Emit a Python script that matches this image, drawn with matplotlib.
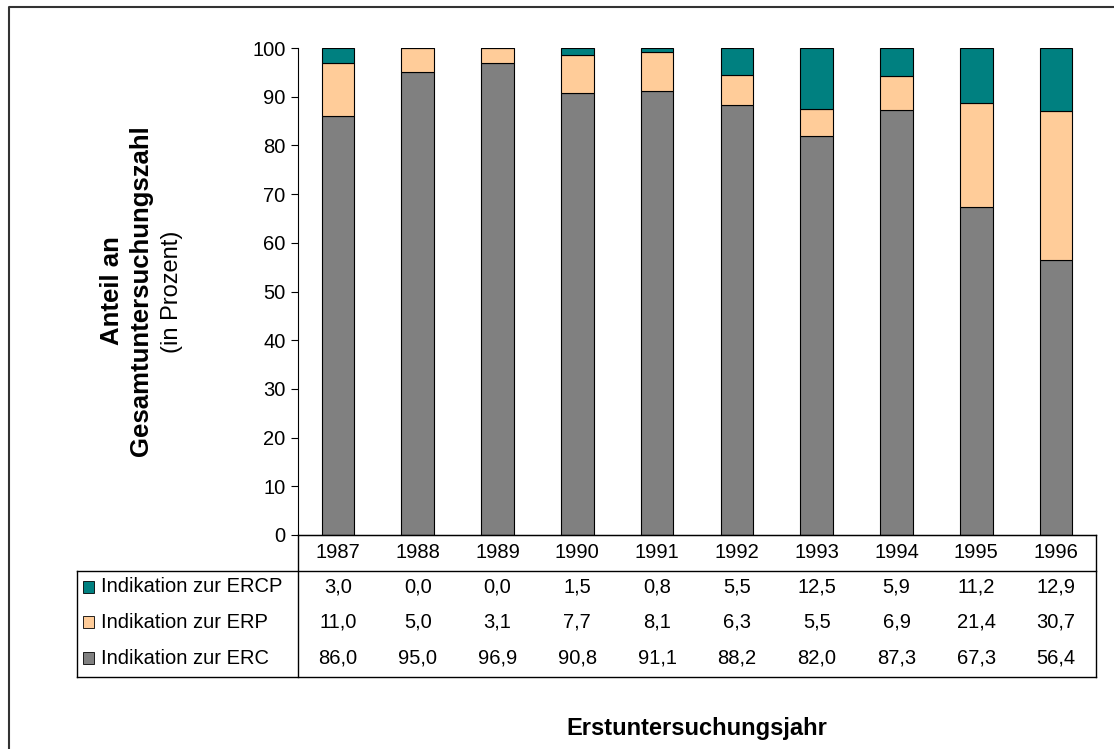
import numpy as np
import matplotlib.pyplot as plt
from matplotlib.patches import Rectangle
from matplotlib.lines import Line2D

plt.rcParams['font.family'] = ['Liberation Sans', 'DejaVu Sans']

years = ['1987', '1988', '1989', '1990', '1991', '1992', '1993', '1994', '1995', '1996']
erc = [86.0, 95.0, 96.9, 90.8, 91.1, 88.2, 82.0, 87.3, 67.3, 56.4]
erp = [11.0, 5.0, 3.1, 7.7, 8.1, 6.3, 5.5, 6.9, 21.4, 30.7]
ercp = [3.0, 0.0, 0.0, 1.5, 0.8, 5.5, 12.5, 5.9, 11.2, 12.9]

labels = ['Indikation zur ERCP', 'Indikation zur ERP', 'Indikation zur ERC']
colors = ['#008080', '#FFCC99', '#808080']

W, H = 1114, 749
fig = plt.figure(figsize=(W / 100, H / 100), dpi=100)

def fx(px):
    return px / W

def fy(py):
    return 1 - py / H

ax = fig.add_axes([fx(298), fy(535), fx(1096) - fx(298), fy(48) - fy(535)])

x = np.arange(len(years))
erc_a = np.array(erc)
erp_a = np.array(erp)
ercp_a = np.array(ercp)
bw = 0.41
ax.bar(x, erc_a, width=bw, color=colors[2], edgecolor='black', linewidth=0.8)
ax.bar(x, erp_a, width=bw, bottom=erc_a, color=colors[1], edgecolor='black', linewidth=0.8)
ax.bar(x, ercp_a, width=bw, bottom=erc_a + erp_a, color=colors[0], edgecolor='black', linewidth=0.8)

ax.set_xlim(-0.5, len(years) - 0.5)
ax.set_ylim(0, 100)
ax.set_yticks(range(0, 101, 10))
ax.tick_params(axis='y', labelsize=14.5, length=5, width=0.8, direction='out', pad=4)
ax.set_xticks([])
for s in ['top', 'right']:
    ax.spines[s].set_visible(False)
ax.spines['left'].set_linewidth(0.8)
ax.spines['bottom'].set_linewidth(0.8)

# data table below the axis
tr = ax.get_xaxis_transform()
row_y = [587, 622, 658]
fs = 14.5
for i, yr in enumerate(years):
    ax.text(x[i], -(553 - 535) / (535 - 48), yr, transform=tr,
            ha='center', va='center', fontsize=fs)
for r, series in enumerate([ercp, erp, erc]):
    yy = -(row_y[r] - 535) / (535 - 48)
    for i, v in enumerate(series):
        ax.text(x[i], yy, f'{v:.1f}'.replace('.', ','), transform=tr,
                ha='center', va='center', fontsize=fs)
    fig.patches.append(Rectangle((fx(83), fy(row_y[r] + 6)), fx(11), fy(row_y[r] - 6) - fy(row_y[r] + 6),
                                 facecolor=colors[r], edgecolor='black', linewidth=0.6,
                                 transform=fig.transFigure))
    fig.text(fx(101), fy(row_y[r]), labels[r], ha='left', va='center', fontsize=fs)

lw = 1.0
segs = [
    ((298, 298), (535, 677)),
    ((77, 1096), (571, 571)),
    ((77, 1096), (677, 677)),
    ((77, 77), (571, 677)),
    ((1096, 1096), (535, 677)),
    ((298, 1096), (535, 535)),
]
for xs, ys in segs:
    fig.lines.append(Line2D([fx(xs[0]), fx(xs[1])], [fy(ys[0]), fy(ys[1])],
                            color='black', linewidth=lw, transform=fig.transFigure))

# outer chart frame (only top and left visible)
fig.lines.append(Line2D([fx(9), fx(9), fx(1114)], [fy(749), fy(7), fy(7)],
                        color='#333333', linewidth=1.5, transform=fig.transFigure))

# axis titles
fig.text(fx(112), fy(291), 'Anteil an', rotation=90, ha='center', va='center',
         fontsize=18.5, fontweight='bold')
fig.text(fx(141), fy(291), 'Gesamtuntersuchungszahl', rotation=90, ha='center', va='center',
         fontsize=18.5, fontweight='bold')
fig.text(fx(172), fy(292), '(in Prozent)', rotation=90, ha='center', va='center',
         fontsize=17)
fig.text(fx(697), fy(729), 'Erstuntersuchungsjahr', ha='center', va='center',
         fontsize=17, fontweight='bold')

fig.savefig('out.png', dpi=100)
